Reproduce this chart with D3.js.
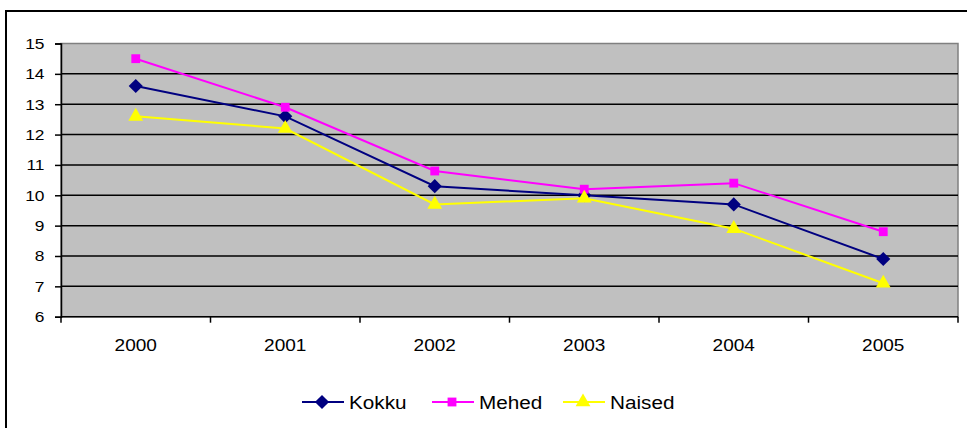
<!DOCTYPE html>
<html>
<head>
<meta charset="utf-8">
<script src="https://cdn.jsdelivr.net/npm/d3@7"></script>
<style>
html,body{margin:0;padding:0;background:#fff;}
svg{display:block;font-family:"Liberation Sans",Arial,sans-serif;}
</style>
</head>
<body>
<svg id="chart" width="967" height="428"></svg>
<script>
const years = ["2000","2001","2002","2003","2004","2005"];
const kokku = [13.6, 12.6, 10.3, 10.0, 9.7, 7.9];
const mehed = [14.5, 12.9, 10.8, 10.2, 10.4, 8.8];
const naised = [12.6, 12.2, 9.7, 9.9, 8.9, 7.1];
const yTicks = [6,7,8,9,10,11,12,13,14,15];
const seriesNames = ["Kokku","Mehed","Naised"];

const SX = 1.12; // horizontal stretch of the text in the reference

const diamond = {draw(ctx, size){ const r = Math.sqrt(size/2); ctx.moveTo(0,-r); ctx.lineTo(r,0); ctx.lineTo(0,r); ctx.lineTo(-r,0); ctx.closePath(); }};

const series = [
  {name: seriesNames[0], values: kokku, color: "#000080", shape: diamond, size: 100},
  {name: seriesNames[1], values: mehed, color: "#FF00FF", shape: d3.symbolSquare, size: 78},
  {name: seriesNames[2], values: naised, color: "#FFFF00", shape: d3.symbolTriangle, size: 95}
];

const svg = d3.select("#chart");
const L = 61, R = 958, T = 43.5, B = 316.7;

// outer chart border
svg.append("rect").attr("x",6).attr("y",11).attr("width",975).attr("height",430)
  .attr("fill","#fff").attr("stroke","#000").attr("stroke-width",2);

const x = d3.scaleBand().domain(years).range([L,R]).padding(0);
const y = d3.scaleLinear().domain([6,15]).range([B,T]);

// plot area
svg.append("rect").attr("x",L).attr("y",T).attr("width",R-L).attr("height",B-T)
  .attr("fill","#C0C0C0").attr("stroke","#808080").attr("stroke-width",1.5);

// gridlines
svg.append("g").selectAll("line").data(yTicks.filter(d=>d>6 && d<15)).join("line")
  .attr("x1",L).attr("x2",R).attr("y1",d=>y(d)).attr("y2",d=>y(d))
  .attr("stroke","#000").attr("stroke-width",1.5);

// y axis
const yAxis = svg.append("g").attr("transform",`translate(${L},0)`)
  .call(d3.axisLeft(y).tickValues(yTicks).tickSize(6).tickPadding(10).tickFormat(d3.format("d")));
yAxis.select(".domain").attr("stroke","#000").attr("stroke-width",1.5);
yAxis.selectAll(".tick line").attr("stroke","#000").attr("stroke-width",1.5);
yAxis.selectAll(".tick text")
  .attr("font-size",15.5).attr("fill","#000")
  .attr("font-family","Liberation Sans, Arial, sans-serif")
  .attr("x",0)
  .attr("transform",`translate(-16.5,0) scale(${SX},1)`);

// x axis
const xAxis = svg.append("g").attr("transform",`translate(0,${B})`);
xAxis.append("line").attr("x1",L).attr("x2",R).attr("stroke","#000").attr("stroke-width",1.5);
const bounds = years.map(d=>x(d)).concat([R]);
xAxis.selectAll("line.tk").data(bounds).join("line").attr("class","tk")
  .attr("x1",d=>d).attr("x2",d=>d).attr("y1",0).attr("y2",6)
  .attr("stroke","#000").attr("stroke-width",1.5);
xAxis.selectAll("text").data(years).join("text")
  .attr("transform",d=>`translate(${x(d)+x.bandwidth()/2},34) scale(${SX},1)`)
  .attr("text-anchor","middle").attr("font-size",17).attr("fill","#000")
  .text(d=>d);

// lines + markers
const line = d3.line().x((d,i)=>x(years[i])+x.bandwidth()/2).y(d=>y(d));
series.forEach(s=>{
  svg.append("path").datum(s.values).attr("d",line)
    .attr("fill","none").attr("stroke",s.color).attr("stroke-width",2);
  svg.append("g").selectAll("path").data(s.values).join("path")
    .attr("d",d3.symbol().type(s.shape).size(s.size))
    .attr("transform",(d,i)=>`translate(${x(years[i])+x.bandwidth()/2},${y(d)})`)
    .attr("fill",s.color);
});

// legend
const legX = [302, 432, 563];
const legY = 402;
const lg = svg.append("g");
series.forEach((s,i)=>{
  const g = lg.append("g").attr("transform",`translate(${legX[i]},${legY})`);
  g.append("line").attr("x1",0).attr("x2",42).attr("stroke",s.color).attr("stroke-width",2);
  g.append("path").attr("d",d3.symbol().type(s.shape).size(s.size)).attr("transform","translate(20,0)").attr("fill",s.color);
  g.append("text").attr("transform",`translate(47,6.5) scale(${SX},1)`).attr("font-size",18.5).attr("fill","#000").text(s.name);
});
</script>
</body>
</html>
